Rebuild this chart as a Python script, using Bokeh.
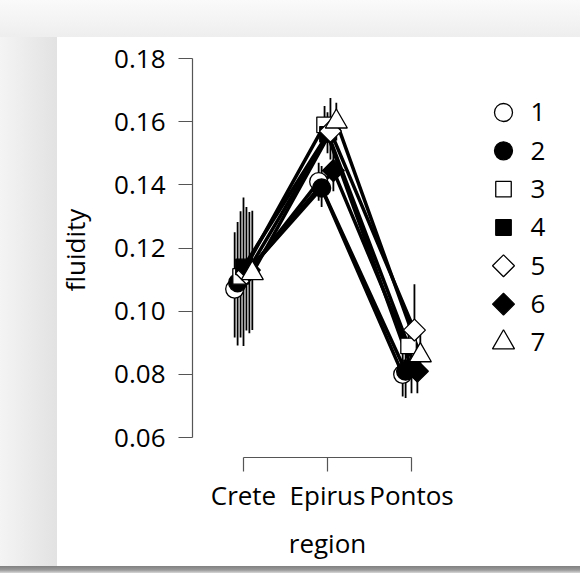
import math
from bokeh.plotting import figure
from bokeh.models import Range1d, FixedTicker, NumeralTickFormatter
from bokeh.layouts import row
from bokeh.core.properties import value
from bokeh.embed import file_html
from bokeh.resources import INLINE

# ---------------- data ----------------
regions = ["Crete", "Epirus", "Pontos"]
series = ["1", "2", "3", "4", "5", "6", "7"]

crete_mean = [0.107, 0.109, 0.111, 0.114, 0.112, 0.113, 0.112]
crete_lo = [0.0917, 0.0891, 0.0917, 0.0890, 0.0939, 0.0930, 0.0940]
crete_hi = [0.1250, 0.1282, 0.1316, 0.1360, 0.1330, 0.1314, 0.1318]

epirus_mean = [0.1410, 0.1390, 0.1590, 0.1560, 0.1570, 0.1445, 0.1600]
epirus_lo = [0.1350, 0.1330, 0.1530, 0.1500, 0.1480, 0.1380, 0.1540]
epirus_hi = [0.1470, 0.1460, 0.1650, 0.1630, 0.1675, 0.1510, 0.1660]

pontos_mean = [0.0800, 0.0810, 0.0890, 0.0820, 0.0940, 0.0810, 0.0860]
pontos_lo = [0.0730, 0.0725, 0.0810, 0.0740, 0.0800, 0.0740, 0.0790]
pontos_hi = [0.0870, 0.0885, 0.0970, 0.0900, 0.1085, 0.0880, 0.0930]

y_ticks = [0.06, 0.08, 0.10, 0.12, 0.14, 0.16, 0.18]

# ---------------- styles ----------------
FONT = "Open Sans"
FS = "26px"
markers = ["circle", "circle", "square", "square", "square", "square", "triangle"]
fills = ["white", "black", "white", "black", "white", "black", "white"]
sizes = [18, 18, 15.5, 15.5, 15.5, 15.5, 22]
angles = [0, 0, 0, 0, math.pi / 4, math.pi / 4, 0]
dodge = 0.035

means = [crete_mean, epirus_mean, pontos_mean]
los = [crete_lo, epirus_lo, pontos_lo]
his = [crete_hi, epirus_hi, pontos_hi]

p = figure(width=472, height=573, output_backend="svg", toolbar_location=None,
           x_range=Range1d(0.3929, 3.6071), y_range=Range1d(0.053668, 0.185066),
           min_border_left=192, min_border_right=10, min_border_top=42,
           min_border_bottom=116)
p.border_fill_color = None
p.background_fill_color = None
p.outline_line_color = None
p.grid.visible = False

for i, s in enumerate(series):
    xs = [r + 1 + (i - 3) * dodge for r in range(len(regions))]
    p.segment(x0=xs, x1=xs, y0=[lo[i] for lo in los], y1=[hi[i] for hi in his],
              line_color="black", line_width=1.8)

for i, s in enumerate(series):
    xs = [r + 1 + (i - 3) * dodge for r in range(len(regions))]
    p.line(xs, [m[i] for m in means], line_color="black", line_width=3.5,
           line_cap="round", line_join="round")

for i, s in enumerate(series):
    xs = [r + 1 + (i - 3) * dodge for r in range(len(regions))]
    p.scatter(xs, [m[i] for m in means], marker=markers[i], size=sizes[i],
              angle=angles[i], fill_color=fills[i], line_color="black", line_width=1.3)

# axes
xa = p.xaxis[0]
xa.ticker = FixedTicker(ticks=list(range(1, len(regions) + 1)))
xa.major_label_overrides = {i + 1: r for i, r in enumerate(regions)}
xa.bounds = (1, len(regions))
xa.axis_label = "region"
ya = p.yaxis[0]
ya.ticker = FixedTicker(ticks=y_ticks)
ya.formatter = NumeralTickFormatter(format="0.00")
ya.bounds = (y_ticks[0], y_ticks[-1])
ya.axis_label = "fluidity"
for ax in (xa, ya):
    ax.axis_line_color = "#555555"
    ax.axis_line_width = 1.2
    ax.major_tick_line_color = "#555555"
    ax.major_tick_line_width = 1.2
    ax.major_tick_out = 14
    ax.major_tick_in = 0
    ax.minor_tick_out = 0
    ax.minor_tick_in = 0
    ax.major_label_text_font = FONT
    ax.major_label_text_font_size = FS
    ax.major_label_text_color = "black"
    ax.axis_label_text_font = FONT
    ax.axis_label_text_font_size = FS
    ax.axis_label_text_font_style = "normal"
    ax.axis_label_text_color = "black"
xa.major_label_standoff = 5
xa.axis_label_standoff = 9
ya.major_label_standoff = 13
ya.axis_label_standoff = 18
ya.major_label_orientation = "horizontal"

# ---------------- legend panel ----------------
# frame of this panel is aligned with the main plot frame (y from 42 to 457 px)
leg = figure(width=108, height=573, output_backend="svg", toolbar_location=None,
             x_range=Range1d(0, 108), y_range=Range1d(10.001, -0.826),
             x_axis_type=None, y_axis_type=None,
             min_border_left=0, min_border_right=0, min_border_top=42, min_border_bottom=116)
leg.border_fill_color = None
leg.background_fill_color = None
leg.outline_line_color = None
leg.grid.visible = False
for i, s in enumerate(series):
    leg.scatter([31], [i + 1], marker=markers[i], size=sizes[i], angle=angles[i],
                fill_color=fills[i], line_color="black", line_width=1.3)
leg.text(x=[58] * len(series), y=list(range(1, len(series) + 1)), text=series,
         text_font=value(FONT), text_font_size=FS, text_baseline="middle",
         text_align="left", text_color="black")

lay = row(p, leg)
lay.styles = {
    "background": ("linear-gradient(to bottom, rgba(0,0,0,0) 566px, #808080 566px, #9a9a9a 570px, #d8d8d8 573px),"
                   "linear-gradient(to bottom, #fafafa 0px, #eeeeee 37px, rgba(0,0,0,0) 37px),"
                   "linear-gradient(to right, #f4f4f4 0px, #e2e2e2 57px, rgba(0,0,0,0) 57px),"
                   "white"),
}

open("out.html", "w").write(file_html(lay, INLINE))
